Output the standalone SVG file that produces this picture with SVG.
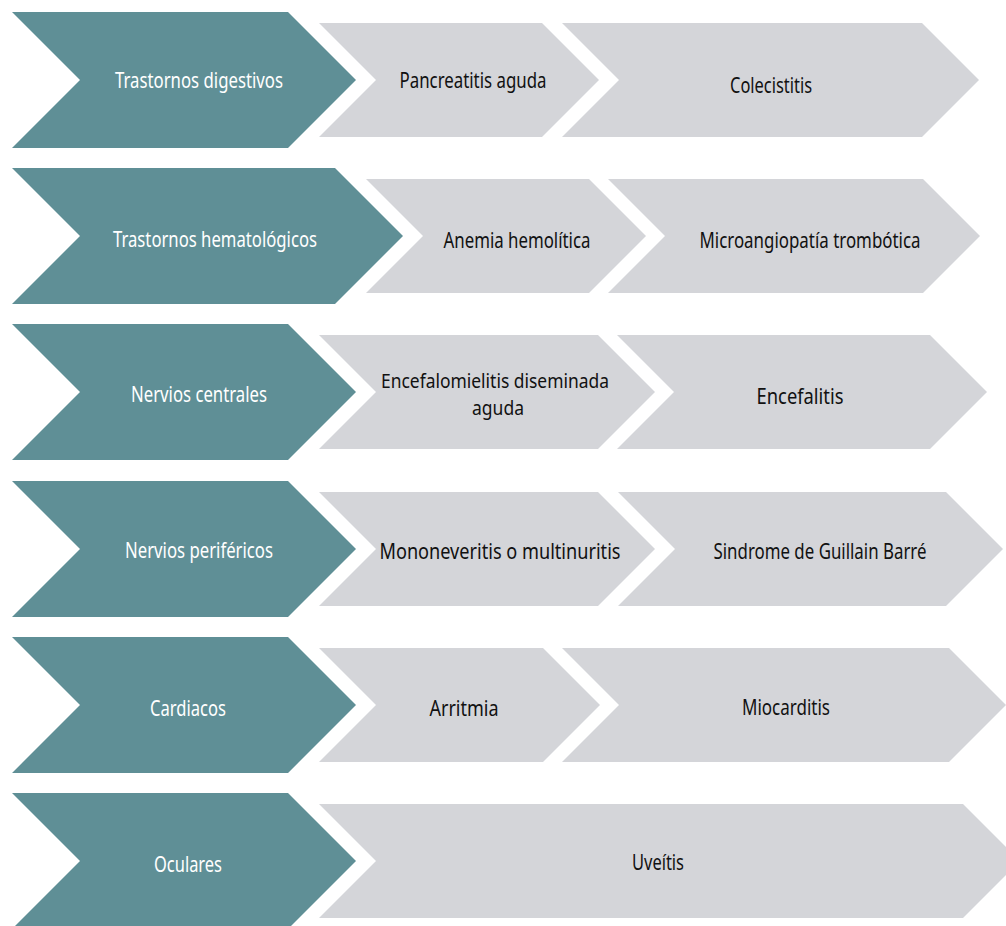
<svg xmlns="http://www.w3.org/2000/svg" width="1006" height="926" viewBox="0 0 1006 926">
<style>
.cat{fill:#5F8F96}
.item{fill:#D4D5D9}
text{font-family:"Noto Sans","Open Sans","Liberation Sans",sans-serif;font-size:21px;text-anchor:middle}
.tw{fill:#FFFFFF}
.tb{fill:#111111}
.two{font-size:19.5px}
</style>
<rect width="1006" height="926" fill="#FFFFFF"/>
<g id="row1">
<g id="n-digestivos"><polygon class="cat" points="12,12 288,12 356,80 288,148 12,148 80,80"/><text class="tw" x="199" y="88" textLength="168" lengthAdjust="spacingAndGlyphs">Trastornos digestivos</text></g>
<g id="n-pancreatitis"><polygon class="item" points="319,23 542,23 599,80 542,137 319,137 376,80"/><text class="tb" x="473" y="88" textLength="147" lengthAdjust="spacingAndGlyphs">Pancreatitis aguda</text></g>
<g id="n-colecistitis"><polygon class="item" points="562,23 922,23 979,80 922,137 562,137 619,80"/><text class="tb" x="771" y="93" textLength="82" lengthAdjust="spacingAndGlyphs">Colecistitis</text></g>
</g>
<g id="row2">
<g id="n-hematologicos"><polygon class="cat" points="12,168 335,168 403,236 335,304 12,304 80,236"/><text class="tw" x="215" y="247" textLength="204" lengthAdjust="spacingAndGlyphs">Trastornos hematológicos</text></g>
<g id="n-anemia"><polygon class="item" points="366,179 589,179 646,236 589,293 366,293 423,236"/><text class="tb" x="517" y="248" textLength="147" lengthAdjust="spacingAndGlyphs">Anemia hemolítica</text></g>
<g id="n-microangiopatia"><polygon class="item" points="608,179 923,179 980,236 923,293 608,293 665,236"/><text class="tb" x="810" y="248" textLength="221" lengthAdjust="spacingAndGlyphs">Microangiopatía trombótica</text></g>
</g>
<g id="row3">
<g id="n-centrales"><polygon class="cat" points="12,324 288,324 356,392 288,460 12,460 80,392"/><text class="tw" x="199" y="402" textLength="136" lengthAdjust="spacingAndGlyphs">Nervios centrales</text></g>
<g id="n-encefalomielitis"><polygon class="item" points="319,335 598,335 655,392 598,449 319,449 376,392"/><text class="tb two" x="495" y="388" textLength="228" lengthAdjust="spacingAndGlyphs">Encefalomielitis diseminada</text><text class="tb two" x="498" y="415" textLength="52" lengthAdjust="spacingAndGlyphs">aguda</text></g>
<g id="n-encefalitis"><polygon class="item" points="617,335 930,335 987,392 930,449 617,449 674,392"/><text class="tb" x="800" y="404" textLength="87" lengthAdjust="spacingAndGlyphs">Encefalitis</text></g>
</g>
<g id="row4">
<g id="n-perifericos"><polygon class="cat" points="12,481 288,481 356,549 288,617 12,617 80,549"/><text class="tw" x="199" y="558" textLength="148" lengthAdjust="spacingAndGlyphs">Nervios periféricos</text></g>
<g id="n-mononeveritis"><polygon class="item" points="319,492 598,492 655,549 598,606 319,606 376,549"/><text class="tb" x="500" y="559" textLength="241" lengthAdjust="spacingAndGlyphs">Mononeveritis o multinuritis</text></g>
<g id="n-guillain"><polygon class="item" points="618,492 946,492 1003,549 946,606 618,606 675,549"/><text class="tb" x="820" y="559" textLength="213" lengthAdjust="spacingAndGlyphs">Sindrome de Guillain Barré</text></g>
</g>
<g id="row5">
<g id="n-cardiacos"><polygon class="cat" points="12,637 288,637 356,705 288,773 12,773 80,705"/><text class="tw" x="188" y="716" textLength="76" lengthAdjust="spacingAndGlyphs">Cardiacos</text></g>
<g id="n-arritmia"><polygon class="item" points="319,648 543,648 600,705 543,762 319,762 376,705"/><text class="tb" x="464" y="716" textLength="69" lengthAdjust="spacingAndGlyphs">Arritmia</text></g>
<g id="n-miocarditis"><polygon class="item" points="562,648 949,648 1006,705 949,762 562,762 619,705"/><text class="tb" x="786" y="715" textLength="88" lengthAdjust="spacingAndGlyphs">Miocarditis</text></g>
</g>
<g id="row6">
<g id="n-oculares"><polygon class="cat" points="12,793 288,793 356,861 288,929 12,929 80,861"/><text class="tw" x="188" y="872" textLength="68" lengthAdjust="spacingAndGlyphs">Oculares</text></g>
<g id="n-uveitis"><polygon class="item" points="319,804 963,804 1020,861 963,918 319,918 376,861"/><text class="tb" x="658" y="870" textLength="52" lengthAdjust="spacingAndGlyphs">Uveítis</text></g>
</g>
<g id="connectors"/>
</svg>
